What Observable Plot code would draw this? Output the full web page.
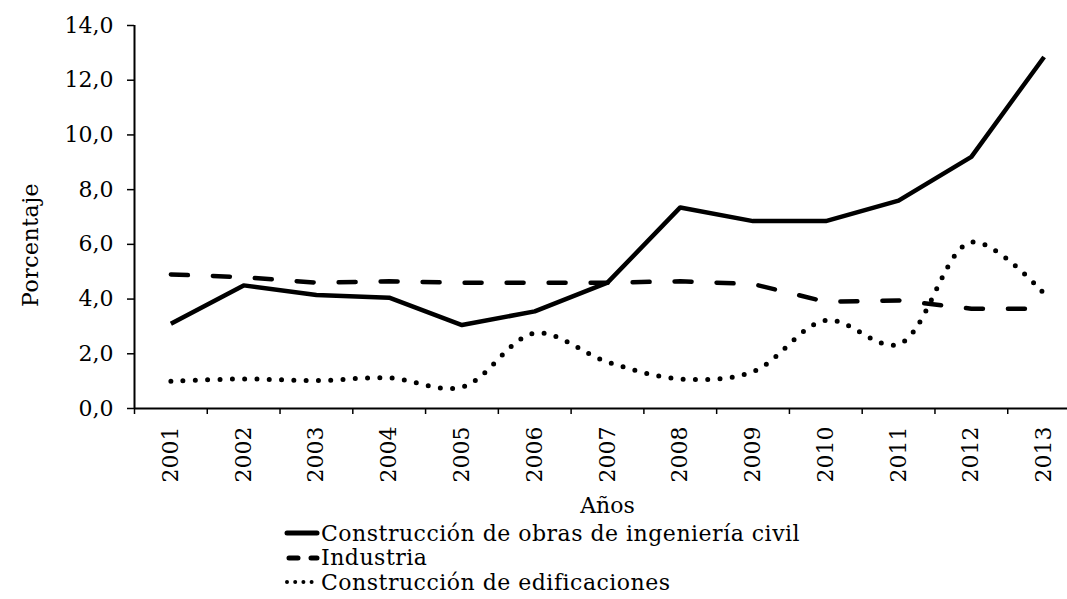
<!DOCTYPE html>
<html>
<head>
<meta charset="utf-8">
<script src="https://cdn.jsdelivr.net/npm/d3@7"></script>
<script src="https://cdn.jsdelivr.net/npm/@observablehq/plot@0.6"></script>
<style>
  html, body { margin: 0; padding: 0; background: #fff; overflow: hidden; }
  body { font-family: "DejaVu Serif", serif; width: 1067px; height: 599px; position: relative; }
  #legend { position: absolute; left: 284px; top: 521px; font-size: 22px; color: #000; letter-spacing: 0.5px; }
  .row { display: flex; align-items: center; height: 24.5px; white-space: nowrap; }
  .row svg { width: 36px; height: 12px; margin-right: 1px; }
  #ylabel { position: absolute; left: 30px; top: 245px; font-size: 22px; transform: translate(-50%, -50%) rotate(-90deg); white-space: nowrap; letter-spacing: 0.5px; }
</style>
</head>
<body>
<div id="chart"></div>
<div id="ylabel"></div>
<div id="legend"></div>
<script>
const years = [2001, 2002, 2003, 2004, 2005, 2006, 2007, 2008, 2009, 2010, 2011, 2012, 2013];
const civil = [3.1, 4.5, 4.15, 4.05, 3.05, 3.55, 4.6, 7.35, 6.85, 6.85, 7.6, 9.2, 12.85];
const industria = [4.9, 4.8, 4.6, 4.65, 4.6, 4.6, 4.6, 4.65, 4.55, 3.9, 3.95, 3.65, 3.65];
const edificaciones = [1.0, 1.08, 1.02, 1.12, 0.78, 2.75, 1.7, 1.08, 1.35, 3.22, 2.35, 6.08, 4.2];
const seriesNames = ["Construcción de obras de ingeniería civil", "Industria", "Construcción de edificaciones"];
const yTicks = [0, 2, 4, 6, 8, 10, 12, 14];
const yLabel = "Porcentaje";
const xLabel = "Años";

const styles = [
  {dash: null, curve: "linear", width: 4.5},
  {dash: "17 25", curve: "linear", width: 4.5},
  {dash: "0 12.3", curve: "catmull-rom", width: 5}
];
const seriesValues = [civil, industria, edificaciones];
const tables = seriesValues.map(vals => years.map((yr, i) => ({year: yr, value: vals[i]})));
const bounds = years.map(y => y - 0.5).concat([years[years.length - 1] + 0.5]);

const fmt = d => d.toFixed(1).replace(".", ",");

const chart = Plot.plot({
  width: 1067,
  height: 520,
  marginLeft: 134,
  marginRight: -13,
  marginTop: 25,
  marginBottom: 112,
  style: {fontFamily: "DejaVu Serif", fontSize: "22px", color: "#000", overflow: "visible"},
  x: {type: "linear", domain: [bounds[0], bounds[bounds.length - 1]]},
  y: {domain: [0, 14]},
  marks: [
    Plot.axisY({ticks: yTicks, tickFormat: fmt, tickSize: 7, tickPadding: 14, strokeWidth: 1.5, label: null}),
    Plot.axisX({ticks: bounds, tickSize: 6, tickFormat: () => "", strokeWidth: 1.5, label: null}),
    Plot.axisX({ticks: years, tickSize: 0, tickRotate: -90, tickPadding: 18, tickFormat: d => String(d),
      label: xLabel, labelAnchor: "center", labelArrow: "none", labelOffset: 104}),
    ...tables.map((t, i) => Plot.line(t, {
      x: "year", y: "value", stroke: "#000", strokeWidth: styles[i].width,
      strokeDasharray: styles[i].dash, strokeLinecap: i === 0 ? "butt" : "round",
      strokeLinejoin: "round", curve: styles[i].curve
    })),
    Plot.ruleY([0], {stroke: "#000", strokeWidth: 2}),
    Plot.ruleX([bounds[0]], {stroke: "#000", strokeWidth: 2})
  ]
});
document.getElementById("chart").appendChild(chart);
document.getElementById("ylabel").textContent = yLabel;

const legend = document.getElementById("legend");
const legendDash = [null, "9 13", "0 8.2"];
seriesNames.forEach((name, i) => {
  const row = document.createElement("div");
  row.className = "row";
  const dash = legendDash[i] ? `stroke-dasharray="${legendDash[i]}"` : "";
  const cap = i === 0 ? "round" : "round";
  const x1 = i === 0 ? 3 : (i === 1 ? 5 : 3);
  row.innerHTML = `<svg viewBox="0 0 36 12"><line x1="${x1}" y1="6" x2="33" y2="6" stroke="#000" stroke-width="${i === 2 ? 4 : 5}" stroke-linecap="${cap}" ${dash}/></svg><span>${name}</span>`;
  legend.appendChild(row);
});
</script>
</body>
</html>
